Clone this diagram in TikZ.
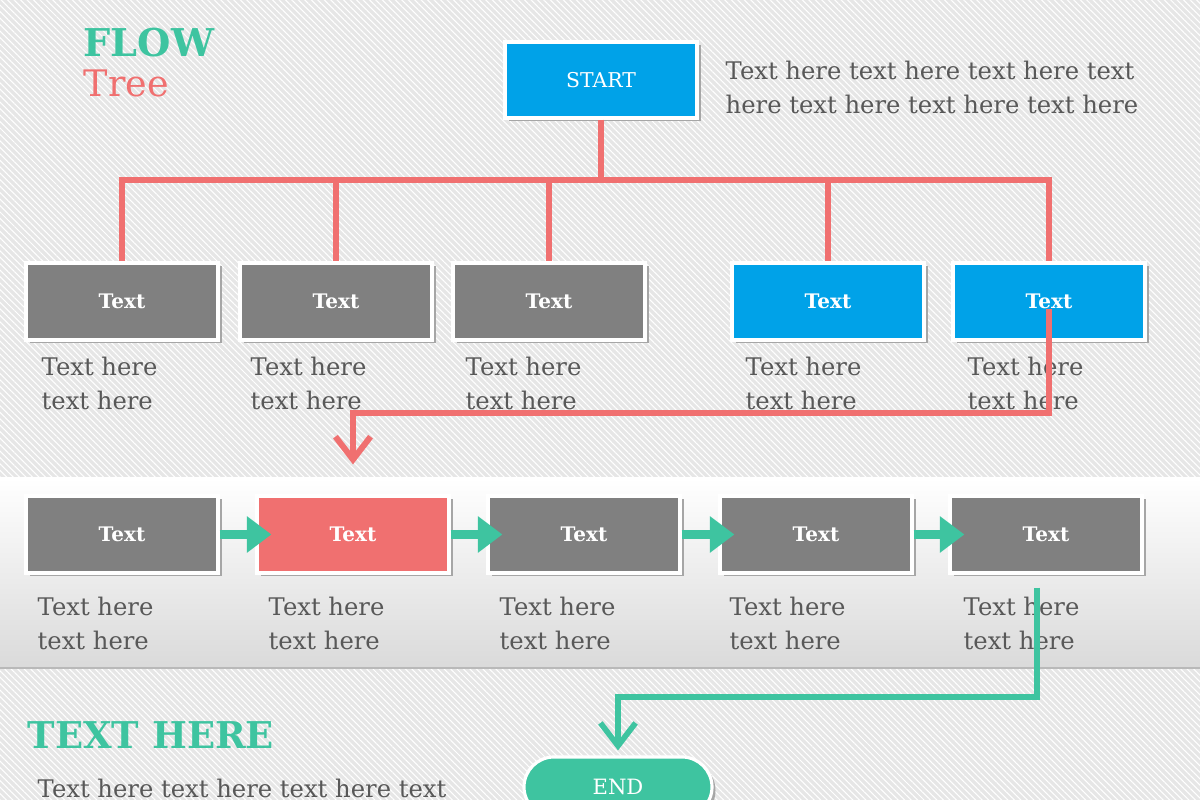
\documentclass[tikz,border=0pt]{standalone}
\usepackage{fontspec}
\setmainfont{DejaVu Serif}
\usetikzlibrary{arrows.meta, positioning, shadows, patterns.meta}
\definecolor{flowteal}{RGB}{62,196,160}
\definecolor{flowred}{RGB}{240,112,112}
\definecolor{flowblue}{RGB}{0,162,232}
\definecolor{flowgray}{RGB}{128,128,128}
\definecolor{flowink}{RGB}{88,88,88}
\definecolor{flowbg}{RGB}{230,230,230}
\definecolor{bandgray}{RGB}{218,218,218}

\begin{document}
\begin{tikzpicture}[
  box/.style={rectangle, draw=white, line width=0.9pt, minimum width=1.92cm,
              minimum height=0.77cm, inner sep=0pt, text=white,
              font=\fontsize{5.7}{7}\selectfont\bfseries,
              drop shadow={shadow xshift=0.035cm, shadow yshift=-0.035cm,
                           fill=black!35, opacity=1}},
  note/.style={anchor=north west, inner sep=0pt, align=left, text=flowink,
              font=\fontsize{6.9}{9.7}\selectfont},
  tree/.style={flowred, line width=1.7pt},
  tealline/.style={flowteal, line width=1.6pt},
  flowarrow/.style={flowteal, line width=2.6pt,
                    -{Triangle[length=7pt,width=10pt]}, shorten >=-0.16cm},
  barb/.style={-{Straight Barb[length=6.5pt,width=10pt]}},
]
  \useasboundingbox (0,0) rectangle (12,8);

  % ── Background ──
  \fill[flowbg] (0,0) rectangle (12,8);
  \fill[pattern={Lines[angle=-45,distance=1.3pt,line width=0.3pt]},
        pattern color=white] (0,0) rectangle (12,8);
  \shade[top color=white, bottom color=bandgray] (0,1.32) rectangle (12,3.22);
  \draw[gray!55, line width=0.6pt] (0,1.32) -- (12,1.32);

  % ── Title ──
  \node[anchor=west, inner sep=0pt, text=flowteal,
        font=\fontsize{10.9}{12}\selectfont\bfseries] (flow) at (0.83,7.57) {FLOW};
  \node[anchor=west, inner sep=0pt, text=flowred,
        font=\fontsize{10.4}{12}\selectfont] (tree) at (0.83,7.17) {Tree};

  % ── Start ──
  \node[box, fill=flowblue, minimum height=0.76cm,
        font=\fontsize{5.8}{7}\selectfont] (start) at (6.01,7.2) {START};
  \node[note] (intro) at (7.25,7.40) {Text here text here text here text\\here text here text here text here};

  % ── First row ──
  \node[box, fill=flowgray] (t1) at (1.22,4.985) {Text};
  \node[box, fill=flowgray] (t2) at (3.36,4.985) {Text};
  \node[box, fill=flowgray] (t3) at (5.49,4.985) {Text};
  \node[box, fill=flowblue] (t4) at (8.28,4.985) {Text};
  \node[box, fill=flowblue] (t5) at (10.49,4.985) {Text};

  \node[note] (c1) at (0.41,4.44) {Text here\\text here};
  \node[note] (c2) at (2.50,4.44) {Text here\\text here};
  \node[note] (c3) at (4.65,4.44) {Text here\\text here};
  \node[note] (c4) at (7.45,4.44) {Text here\\text here};
  \node[note] (c5) at (9.67,4.44) {Text here\\text here};

  % ── Second row ──
  \node[box, fill=flowgray] (b1) at (1.22,2.655) {Text};
  \node[box, fill=flowred]  (b2) at (3.53,2.655) {Text};
  \node[box, fill=flowgray] (b3) at (5.84,2.655) {Text};
  \node[box, fill=flowgray] (b4) at (8.16,2.655) {Text};
  \node[box, fill=flowgray] (b5) at (10.46,2.655) {Text};

  \node[note] (d1) at (0.37,2.04) {Text here\\text here};
  \node[note] (d2) at (2.68,2.04) {Text here\\text here};
  \node[note] (d3) at (4.99,2.04) {Text here\\text here};
  \node[note] (d4) at (7.29,2.04) {Text here\\text here};
  \node[note] (d5) at (9.63,2.04) {Text here\\text here};

  % ── End ──
  \node[box, fill=flowteal, rounded corners=0.3cm, minimum width=1.88cm,
        minimum height=0.6cm, font=\fontsize{6}{7}\selectfont] (finish) at (6.18,0.13) {END};
  \node[anchor=west, inner sep=0pt, text=flowteal,
        font=\fontsize{10.5}{12}\selectfont\bfseries] (heading) at (0.27,0.65) {TEXT HERE};
  \node[note] (outro) at (0.37,0.22) {Text here text here text here text};

  % ── Tree connectors ──
  \coordinate (hub) at (6.01,6.2);
  \draw[tree] (start.south) -- (hub);
  \foreach \i in {1,...,5} {
    \draw[tree] (hub) -| (t\i.north);
  }
  \coordinate (redturn) at (3.53,3.87);
  \draw[tree, barb, shorten >=0.3cm] ([yshift=-0.08cm]t5.center) |- (redturn) -- (b2.north);

  % ── Flow arrows ──
  \foreach \a/\b in {b1/b2, b2/b3, b3/b4, b4/b5} {
    \draw[flowarrow] (\a.east) -- (\b.west);
  }
  \coordinate (tealturn) at (6.18,1.03);
  \draw[tealline, barb, shorten >=0.05cm] ([xshift=-0.09cm,yshift=-0.13cm]b5.south) |- (tealturn) -- (finish.north);
\end{tikzpicture}
\end{document}
